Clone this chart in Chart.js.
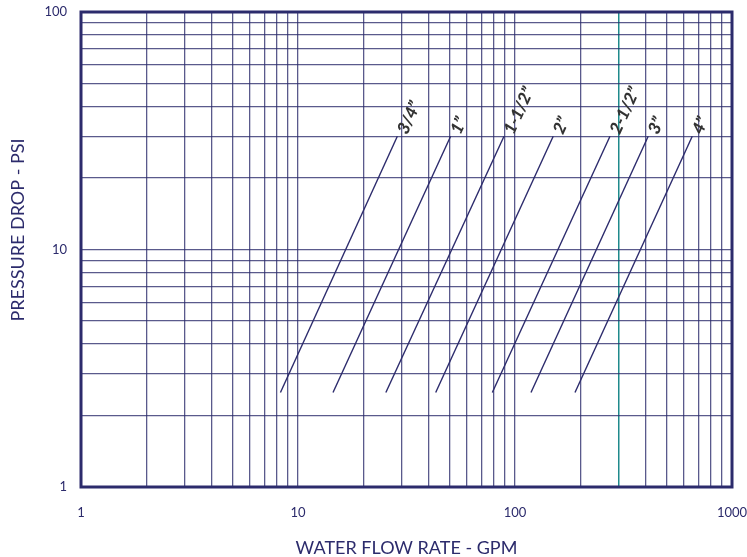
<!DOCTYPE html>
<html>
<head>
<meta charset="utf-8">
<script src="https://cdn.jsdelivr.net/npm/chart.js@4/dist/chart.umd.min.js"></script>
<style>
  html, body { margin: 0; padding: 0; background: #ffffff; }
  #wrap { width: 747px; height: 557px; }
</style>
</head>
<body>
<div id="wrap"><canvas id="chart" width="747" height="557"></canvas></div>
<script>
// Pipe sizes and their pressure-drop lines (flow in GPM at the low and high drop).
const pipeSizes = ['3/4\u201D', '1\u201D', '1-1/2\u201D', '2\u201D', '2-1/2\u201D', '3\u201D', '4\u201D'];
const flowAtLowDrop  = [8.3, 14.5, 25.4, 43.1, 78.6, 118.5, 189];
const flowAtHighDrop = [28.7, 50.5, 89, 150, 274, 411, 656];
const lowDrop = 2.5;    // PSI
const highDrop = 30;    // PSI

// Labelled decades on each axis.
const xDecadeTicks = [1, 10, 100, 1000];
const yDecadeTicks = [1, 10, 100];

// Flow rate marked with a highlighted vertical rule.
const markedFlow = 300;

const NAVY = '#2c2b6c';
const GRID = 'rgba(44,43,108,0.78)';
const TEAL = '#1f8a8c';
const LABEL_INK = '#333333';

// Decade ticks plus the 2..9 multiples between them.
function logTicks(decades) {
  const out = [];
  for (let i = 0; i < decades.length; i++) {
    const d = decades[i];
    out.push(d);
    if (i < decades.length - 1) {
      for (let m = 2; m <= 9; m++) out.push(d * m);
    }
  }
  return out;
}
const isDecade = (list, v) => list.some(d => Math.abs(d - v) < 1e-9 * d);

const datasets = pipeSizes.map((size, i) => ({
  label: size,
  data: [
    { x: flowAtLowDrop[i], y: lowDrop },
    { x: flowAtHighDrop[i], y: highDrop }
  ],
  showLine: true,
  borderColor: NAVY,
  borderWidth: 1.4,
  pointRadius: 0,
  pointHoverRadius: 0,
  fill: false
}));

// Writes each pipe size just beyond the upper end of its line, along the line.
const sizeLabels = {
  id: 'sizeLabels',
  afterDatasetsDraw(chart) {
    const ctx = chart.ctx;
    ctx.save();
    ctx.font = 'italic 900 17px Lato, "DejaVu Sans", sans-serif';
    ctx.fillStyle = LABEL_INK;
    ctx.textAlign = 'left';
    ctx.textBaseline = 'middle';
    chart.data.datasets.forEach((ds, i) => {
      const pts = chart.getDatasetMeta(i).data;
      const p0 = pts[0], p1 = pts[1];
      const ang = Math.atan2(p1.y - p0.y, p1.x - p0.x);
      const ux = Math.cos(ang), uy = Math.sin(ang);
      const x = p1.x + ux * 5 + 3 * (-uy);
      const y = p1.y + uy * 5 + 3 * ux;
      ctx.save();
      ctx.translate(x, y);
      ctx.rotate(ang);
      ctx.fillText(ds.label, 0, 0);
      ctx.restore();
    });
    ctx.restore();
  }
};

// Heavy frame round the plot and the two axis titles.
const frameAndTitles = {
  id: 'frameAndTitles',
  afterDraw(chart) {
    const { ctx, chartArea: a } = chart;
    ctx.save();
    ctx.strokeStyle = NAVY;
    ctx.lineWidth = 3;
    ctx.strokeRect(a.left, a.top, a.right - a.left, a.bottom - a.top);

    ctx.fillStyle = NAVY;
    ctx.font = '18px Lato, "Open Sans", sans-serif';
    ctx.textAlign = 'center';
    ctx.textBaseline = 'middle';
    ctx.fillText('WATER FLOW RATE - GPM', (a.left + a.right) / 2, 548);

    ctx.translate(18, 230);
    ctx.rotate(-Math.PI / 2);
    ctx.fillText('PRESSURE DROP - PSI', 0, 0);
    ctx.restore();
  }
};

new Chart(document.getElementById('chart'), {
  type: 'scatter',
  data: { datasets },
  plugins: [sizeLabels, frameAndTitles],
  options: {
    responsive: false,
    animation: false,
    devicePixelRatio: 1,
    layout: { padding: { top: 12, right: 15, left: 0, bottom: 0 } },
    plugins: {
      legend: { display: false },
      tooltip: { enabled: false },
      title: { display: false }
    },
    scales: {
      x: {
        type: 'logarithmic',
        position: 'bottom',
        min: xDecadeTicks[0],
        max: xDecadeTicks[xDecadeTicks.length - 1],
        afterBuildTicks(scale) {
          scale.ticks = logTicks(xDecadeTicks).map(v => ({ value: v }));
        },
        afterFit(scale) {
          scale.height = 70;
          scale.paddingLeft = 0;
          scale.paddingRight = 0;
        },
        border: { display: false },
        grid: {
          drawTicks: false,
          lineWidth: c => (c.tick && Math.abs(c.tick.value - markedFlow) < 1e-6) ? 1.5 : 1.3,
          color: c => (c.tick && Math.abs(c.tick.value - markedFlow) < 1e-6) ? TEAL : GRID
        },
        ticks: {
          autoSkip: false,
          maxRotation: 0,
          padding: 18,
          color: NAVY,
          font: { family: 'Lato, "Open Sans", sans-serif', size: 13 },
          callback: v => isDecade(xDecadeTicks, v) ? String(v) : ''
        }
      },
      y: {
        type: 'logarithmic',
        position: 'left',
        min: yDecadeTicks[0],
        max: yDecadeTicks[yDecadeTicks.length - 1],
        afterBuildTicks(scale) {
          scale.ticks = logTicks(yDecadeTicks).map(v => ({ value: v }));
        },
        afterFit(scale) {
          scale.width = 81;
          scale.paddingTop = 0;
          scale.paddingBottom = 0;
        },
        border: { display: false },
        grid: { drawTicks: false, lineWidth: 1.3, color: GRID },
        ticks: {
          autoSkip: false,
          padding: 14,
          color: NAVY,
          font: { family: 'Lato, "Open Sans", sans-serif', size: 13 },
          callback: v => isDecade(yDecadeTicks, v) ? String(v) : ''
        }
      }
    }
  }
});
</script>
</body>
</html>
